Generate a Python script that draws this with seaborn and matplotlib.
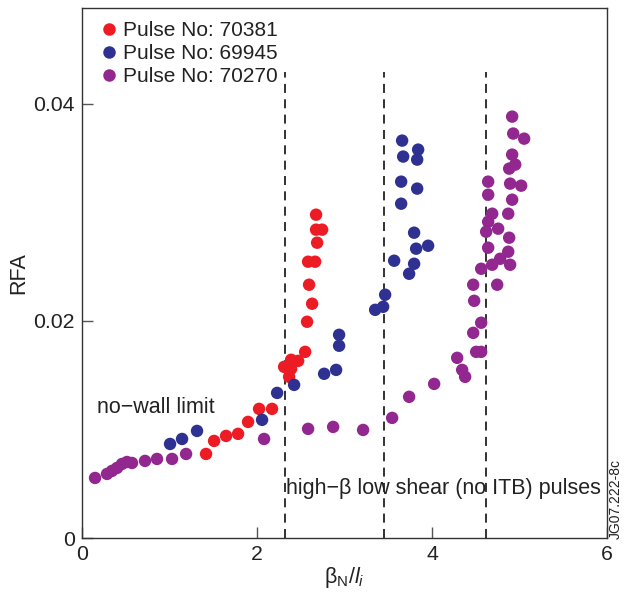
import matplotlib
matplotlib.use("Agg")
import matplotlib.pyplot as plt
import seaborn as sns
import pandas as pd
from matplotlib.lines import Line2D

# Pulse 70381
x_70381 = [1.417, 1.509, 1.646, 1.783, 1.897, 2.023, 2.171, 2.549, 2.469, 2.389,
           2.309, 2.389, 2.366, 2.571, 2.629, 2.594, 2.583, 2.663, 2.686, 2.674,
           2.743, 2.674]
y_70381 = [0.00774, 0.00894, 0.00940, 0.00959, 0.01069, 0.01189, 0.01189, 0.01714,
           0.01631, 0.01641, 0.01576, 0.01558, 0.01484, 0.01991, 0.02157, 0.02332,
           0.02544, 0.02544, 0.02719, 0.02839, 0.02839, 0.02977]

# Pulse 69945
x_69945 = [1.006, 1.143, 1.314, 2.057, 2.229, 2.423, 2.766, 2.903, 2.937, 2.937,
           3.463, 3.440, 3.349, 3.566, 3.737, 3.794, 3.817, 3.954, 3.794, 3.646,
           3.829, 3.646, 3.829, 3.669, 3.840, 3.657]
y_69945 = [0.00866, 0.00912, 0.00986, 0.01088, 0.01336, 0.01410, 0.01512, 0.01548,
           0.01770, 0.01871, 0.02240, 0.02129, 0.02101, 0.02553, 0.02433, 0.02525,
           0.02664, 0.02691, 0.02811, 0.03078, 0.03217, 0.03281, 0.03484, 0.03512,
           0.03576, 0.03659]

# Pulse 70270
x_70270 = [0.149, 0.286, 0.343, 0.400, 0.457, 0.514, 0.571, 0.720, 0.857, 1.029,
           1.189, 2.080, 2.583, 2.869, 3.211, 3.543, 3.737, 4.023, 4.286, 4.343,
           4.377, 4.469, 4.480, 4.560, 4.469, 4.503, 4.560, 4.914, 4.926, 5.051,
           4.914, 4.949, 4.880, 4.640, 4.891, 5.017, 4.640, 4.914, 4.686, 4.869,
           4.640, 4.754, 4.617, 4.880, 4.640, 4.869, 4.777, 4.686, 4.891, 4.560,
           4.743]
y_70270 = [0.00553, 0.00590, 0.00618, 0.00645, 0.00682, 0.00700, 0.00691, 0.00710,
           0.00728, 0.00728, 0.00774, 0.00912, 0.01005, 0.01023, 0.00995, 0.01106,
           0.01300, 0.01419, 0.01659, 0.01548, 0.01484, 0.02332, 0.02184, 0.01982,
           0.01889, 0.01714, 0.01714, 0.03880, 0.03724, 0.03677, 0.03530, 0.03438,
           0.03401, 0.03281, 0.03263, 0.03244, 0.03161, 0.03115, 0.02986, 0.02986,
           0.02912, 0.02848, 0.02820, 0.02765, 0.02673, 0.02636, 0.02571, 0.02516,
           0.02516, 0.02479, 0.02332]

pulses = ["Pulse No: 70381", "Pulse No: 69945", "Pulse No: 70270"]
colors = ["#ED1C24", "#2E3192", "#92278F"]

# Boundaries of the high-beta low shear regime
limit_lines = [2.32, 3.45, 4.61]

sns.set_theme(style="white")
plt.rcParams["font.family"] = ["Liberation Sans", "DejaVu Sans"]
plt.rcParams["mathtext.fontset"] = "custom"
plt.rcParams["mathtext.rm"] = "Liberation Sans"
plt.rcParams["mathtext.it"] = "Liberation Sans:italic"

df = pd.concat([
    pd.DataFrame({"x": x_70381, "y": y_70381, "pulse": pulses[0]}),
    pd.DataFrame({"x": x_69945, "y": y_69945, "pulse": pulses[1]}),
    pd.DataFrame({"x": x_70270, "y": y_70270, "pulse": pulses[2]}),
], ignore_index=True)

fig = plt.figure(figsize=(6.26, 5.92), dpi=100)
ax = fig.add_axes([0.131, 0.0912, 0.839, 0.8953])

sns.scatterplot(data=df, x="x", y="y", hue="pulse", hue_order=pulses,
                palette=colors, s=80, linewidth=0, alpha=1.0, ax=ax,
                legend=False, zorder=3)

for xv in limit_lines:
    ax.plot([xv, xv], [0, 0.0429], color="#222222", lw=1.3,
            linestyle=(0, (5, 3.5)), zorder=2)

ax.set_xlim(0, 6)
ax.set_ylim(0, 0.0488)
ax.set_xticks([0, 2, 4, 6])
ax.set_xticklabels(["0", "2", "4", "6"])
ax.set_yticks([0, 0.02, 0.04])
ax.set_yticklabels(["0", "0.02", "0.04"])
ax.tick_params(axis="both", which="major", bottom=True, left=True,
               direction="in", length=8, width=1, color="#555555",
               labelsize=15.3, labelcolor="#222222", pad=5)
for sp in ax.spines.values():
    sp.set_color("#333333")
    sp.set_linewidth(1.0)

ax.set_xlabel(r"$\mathrm{\beta}_{\mathrm{N}}/\mathit{l}_{\mathit{i}}$",
              fontsize=15.5, color="#222222", labelpad=1)
ax.set_ylabel("RFA", fontsize=15.5, color="#222222", labelpad=3)

ax.text(0.17, 0.0120, "no\u2212wall limit", fontsize=15.5, color="#222222",
        va="center", ha="left")
ax.text(2.33, 0.0046, "high\u2212\u03b2 low shear (no ITB) pulses", fontsize=15.5,
        color="#222222", va="center", ha="left")

handles = [Line2D([], [], marker="o", linestyle="", markersize=9,
                  markerfacecolor=c, markeredgewidth=0) for c in colors]
ax.legend(handles, pulses, loc="upper left", bbox_to_anchor=(0.015, 0.9915),
          frameon=False, fontsize=15, handletextpad=0.19, labelspacing=0.2,
          borderaxespad=0.0, handlelength=1.0, labelcolor="#222222")

fig.text(0.983, 0.09, "JG07.222-8c", rotation=90, fontsize=10,
         color="#222222", ha="center", va="bottom")

fig.savefig("out.png", dpi=100)
